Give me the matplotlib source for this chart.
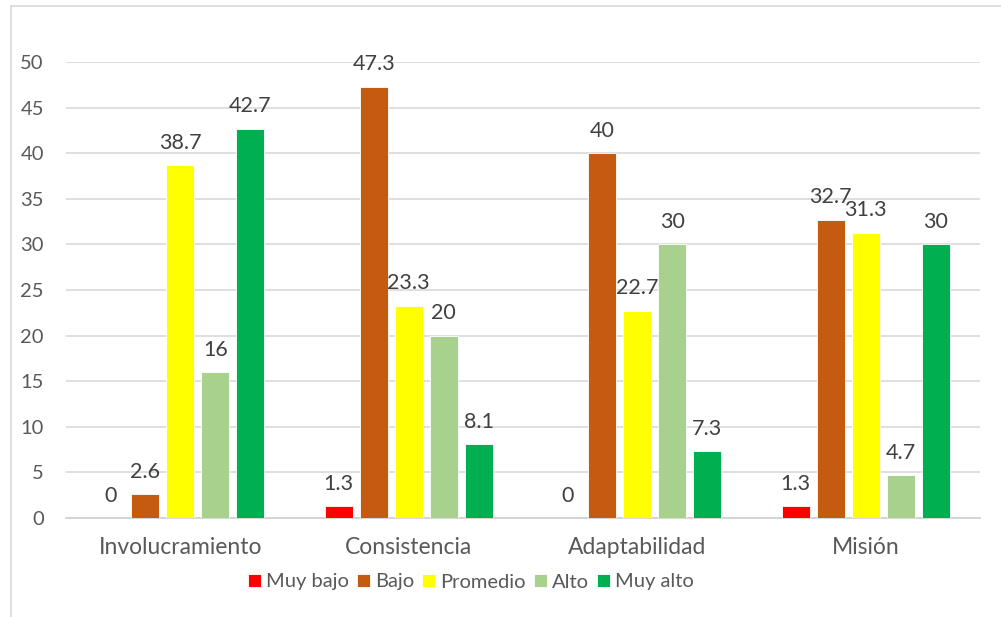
import matplotlib
matplotlib.use("Agg")
import matplotlib.pyplot as plt
from matplotlib.lines import Line2D
import numpy as np

plt.rcParams['font.family'] = ['Lato', 'DejaVu Sans']

categories = ["Involucramiento", "Consistencia", "Adaptabilidad", "Misión"]
series_names = ["Muy bajo", "Bajo", "Promedio", "Alto", "Muy alto"]
values = {
    "Muy bajo": [0, 1.3, 0, 1.3],
    "Bajo": [2.6, 47.3, 40, 32.7],
    "Promedio": [38.7, 23.3, 22.7, 31.3],
    "Alto": [16, 20, 30, 4.7],
    "Muy alto": [42.7, 8.1, 7.3, 30],
}
labels = {
    "Muy bajo": ["0", "1.3", "0", "1.3"],
    "Bajo": ["2.6", "47.3", "40", "32.7"],
    "Promedio": ["38.7", "23.3", "22.7", "31.3"],
    "Alto": ["16", "20", "30", "4.7"],
    "Muy alto": ["42.7", "8.1", "7.3", "30"],
}
colors = ["#FF0000", "#C55A11", "#FFFF00", "#A9D18E", "#00B050"]
yticks = [0, 5, 10, 15, 20, 25, 30, 35, 40, 45, 50]

W, H = 1001, 617
fig = plt.figure(figsize=(W / 100, H / 100), dpi=100)
ax = fig.add_axes([66 / W, 1 - 518 / H, (980 - 66) / W, (518 - 62) / H])

x = np.arange(len(categories))
step = 0.153
width = 0.1225
for i, name in enumerate(series_names):
    pos = x + (i - 2) * step
    ax.bar(pos, values[name], width, color=colors[i], label=name,
           edgecolor="white", linewidth=0.6, zorder=3)
    for xp, v, t in zip(pos, values[name], labels[name]):
        ax.annotate(t, (xp, v), xytext=(0, 9), textcoords="offset points",
                    ha="center", va="bottom", fontsize=15.5, color="#404040")

ax.set_xlim(-0.5, len(categories) - 0.5)
ax.set_ylim(0, 50)
ax.set_yticks(yticks)
ax.set_yticklabels([str(t) for t in yticks])
ax.set_xticks(x)
ax.set_xticklabels(categories)
ax.tick_params(axis="both", length=0, labelcolor="#595959")
ax.tick_params(axis="y", pad=16, labelsize=14.5)
ax.tick_params(axis="x", pad=14, labelsize=16.5)
ax.grid(axis="y", color="#D9D9D9", linewidth=1.2, zorder=0)
ax.set_axisbelow(True)
for s in ["top", "right", "left"]:
    ax.spines[s].set_visible(False)
ax.spines["bottom"].set_color("#D0D0D0")
ax.spines["bottom"].set_linewidth(1.2)

leg = fig.legend(loc="center", bbox_to_anchor=(471 / W, 1 - 582 / H), ncol=5,
                 frameon=False, fontsize=14.5, handlelength=0.65, handleheight=0.65,
                 handletextpad=0.25, columnspacing=0.4, borderaxespad=0)
for t in leg.get_texts():
    t.set_color("#595959")

# chart border (left and top)
fig.add_artist(Line2D([10.5 / W, 10.5 / W], [0, 1 - 6 / H], transform=fig.transFigure,
                      color="#D9D9D9", linewidth=1.2))
fig.add_artist(Line2D([10.5 / W, 1], [1 - 6 / H, 1 - 6 / H], transform=fig.transFigure,
                      color="#D9D9D9", linewidth=1.2))

fig.savefig("out.png", dpi=100)
